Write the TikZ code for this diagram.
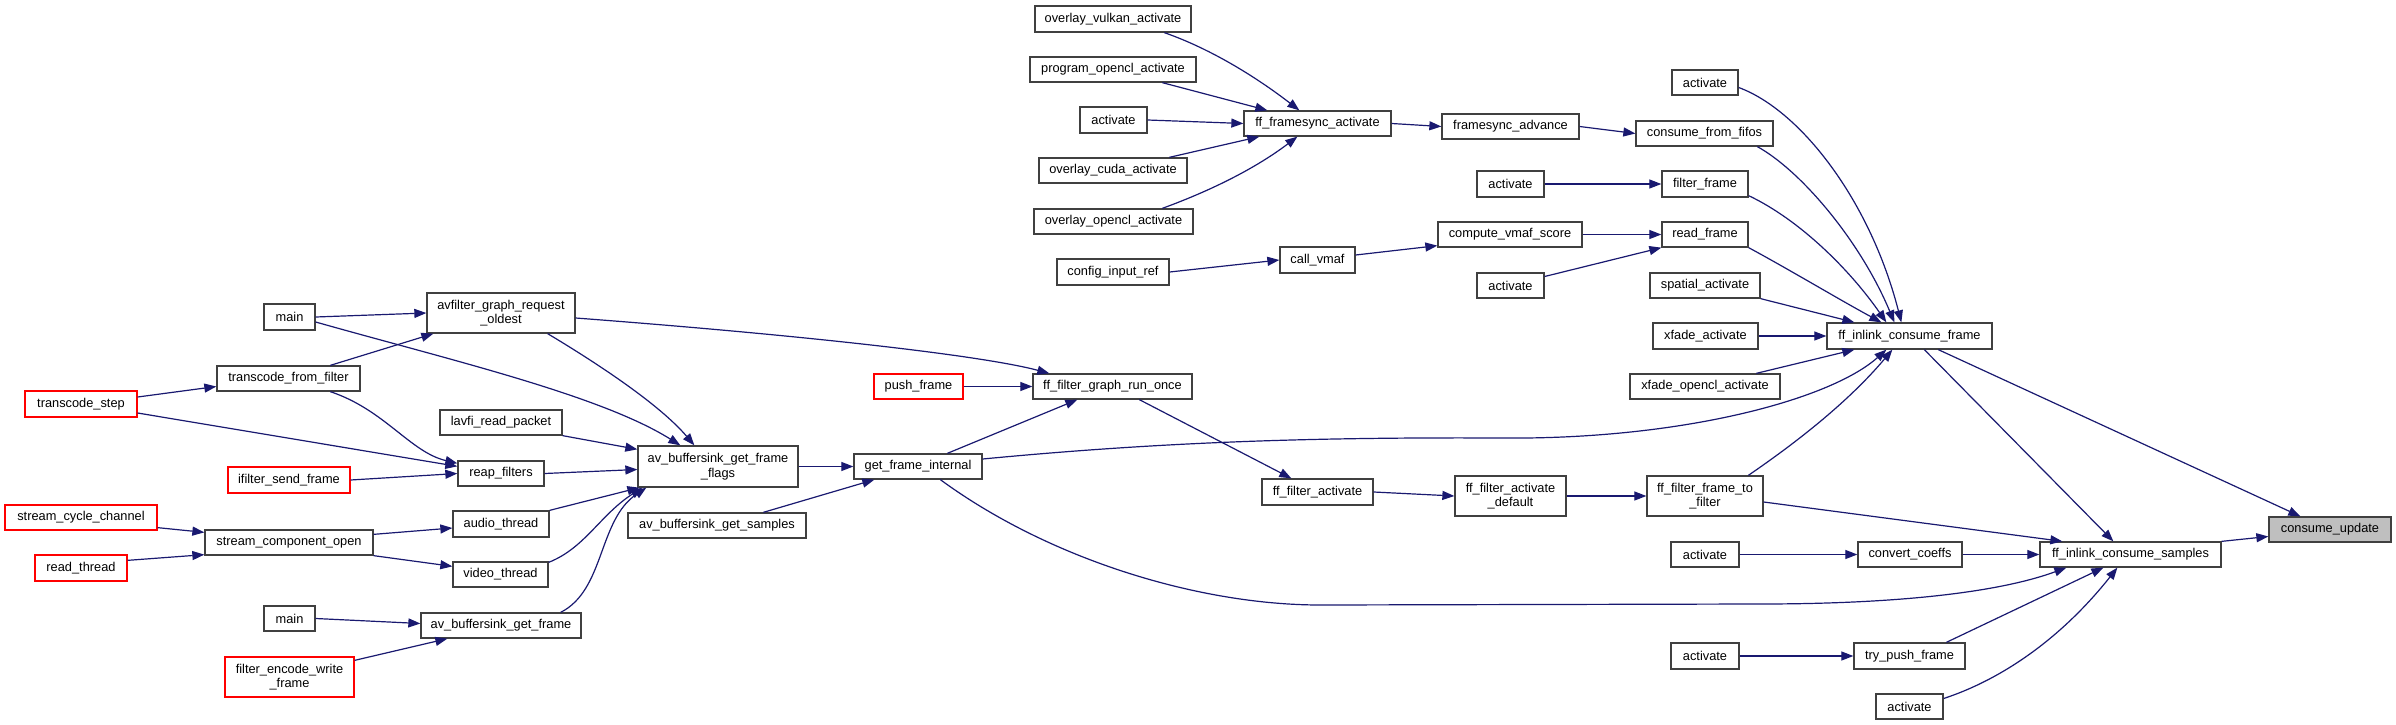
\documentclass[tikz,border=0pt]{standalone}
\usepackage{fontspec}
\setmainfont{Liberation Sans}
\usetikzlibrary{arrows.meta}
\definecolor{edgec}{HTML}{191970}
\definecolor{bord}{HTML}{404040}
\definecolor{rootfill}{HTML}{BFBFBF}
\tikzset{
 box/.style={draw=bord, line width=1.3pt, fill=white, inner sep=0pt, align=center, font=\fontsize{12.8}{14.7}\selectfont},
 redbox/.style={draw=red},
 rootbox/.style={fill=rootfill},
 call/.style={draw=edgec, line width=1.2pt, -{Triangle[length=12pt,width=9pt]}},
}
\newcommand\bx[7][]{\node[box,#1,minimum width={(#5-#3)*1pt},minimum height={(#6-#4)*1pt}] (#2) at ({(#3+#5)/2},{(#4+#6)/2}) {#7};}
\begin{document}
\begin{tikzpicture}[x=1pt,y=-1pt]
\useasboundingbox[fill=white] (0,0) rectangle (2396,725);
\bx{main1}{264}{304}{315}{330}{main}
\bx{avfreq}{427}{293}{575}{333}{avfilter\_graph\_request\\\_oldest}
\bx{tff}{217}{366}{360}{391}{transcode\_from\_filter}
\bx[redbox]{tstep}{25}{391}{137}{417}{transcode\_step}
\bx{lavfi}{440}{410}{562}{435}{lavfi\_read\_packet}
\bx{reap}{458}{461}{544}{486}{reap\_filters}
\bx[redbox]{ifsf}{228}{467}{350}{493}{ifilter\_send\_frame}
\bx[redbox]{scc}{5}{505}{157}{530}{stream\_cycle\_channel}
\bx{sco}{205}{530}{373}{555}{stream\_component\_open}
\bx{audio}{453}{511}{549}{537}{audio\_thread}
\bx[redbox]{rth}{35}{555}{127}{581}{read\_thread}
\bx{video}{453}{562}{548}{587}{video\_thread}
\bx{main2}{264}{606}{315}{631}{main}
\bx{abgf}{421}{613}{581}{638}{av\_buffersink\_get\_frame}
\bx[redbox]{few}{225}{657}{354}{697}{filter\_encode\_write\\\_frame}
\bx{abgff}{638}{446}{798}{487}{av\_buffersink\_get\_frame\\\_flags}
\bx{abgs}{628}{513}{806}{538}{av\_buffersink\_get\_samples}
\bx{gfi}{854}{454}{982}{479}{get\_frame\_internal}
\bx[redbox]{push}{874}{374}{963}{399}{push\_frame}
\bx{fgro}{1033}{374}{1192}{399}{ff\_filter\_graph\_run\_once}
\bx{ovk}{1035}{6}{1191}{32}{overlay\_vulkan\_activate}
\bx{poa}{1030}{57}{1196}{82}{program\_opencl\_activate}
\bx{act1}{1080}{107}{1147}{133}{activate}
\bx{oca}{1039}{158}{1187}{183}{overlay\_cuda\_activate}
\bx{ooa}{1034}{209}{1193}{234}{overlay\_opencl\_activate}
\bx{ffsa}{1244}{111}{1391}{136}{ff\_framesync\_activate}
\bx{fsad}{1442}{114}{1579}{139}{framesync\_advance}
\bx{cir}{1057}{259}{1169}{285}{config\_input\_ref}
\bx{cvmaf}{1280}{247}{1355}{273}{call\_vmaf}
\bx{cvs}{1438}{222}{1582}{247}{compute\_vmaf\_score}
\bx{act2}{1477}{171}{1544}{197}{activate}
\bx{act3}{1477}{273}{1544}{298}{activate}
\bx{act0}{1672}{70}{1738}{95}{activate}
\bx{cff}{1636}{121}{1773}{146}{consume\_from\_fifos}
\bx{ff}{1662}{171}{1748}{197}{filter\_frame}
\bx{rf}{1662}{222}{1748}{247}{read\_frame}
\bx{spa}{1650}{273}{1760}{298}{spatial\_activate}
\bx{xfa}{1653}{323}{1758}{349}{xfade\_activate}
\bx{ficf}{1827}{323}{1992}{349}{ff\_inlink\_consume\_frame}
\bx{xfoa}{1630}{374}{1780}{399}{xfade\_opencl\_activate}
\bx{ffa}{1262}{479}{1373}{505}{ff\_filter\_activate}
\bx{ffad}{1455}{476}{1566}{516}{ff\_filter\_activate\\\_default}
\bx{fftf}{1647}{476}{1763}{516}{ff\_filter\_frame\_to\\\_filter}
\bx{act4}{1671}{542}{1739}{567}{activate}
\bx{act5}{1671}{643}{1739}{669}{activate}
\bx[rootbox]{cu}{2269}{517}{2391}{542}{consume\_update}
\bx{fics}{2040}{542}{2221}{567}{ff\_inlink\_consume\_samples}
\bx{cc}{1858}{542}{1962}{567}{convert\_coeffs}
\bx{tpf}{1854}{643}{1965}{669}{try\_push\_frame}
\bx{act6}{1876}{694}{1943}{719}{activate}
% edges
\draw[call] (main1.east) -- (avfreq.west);
\draw[call] ([yshift=-5]main1.east) .. controls (450,360) and (600,395) .. ([xshift=43]abgff.north west);
\draw[call] ([xshift=114]tff.north west) -- ([xshift=7]avfreq.south west);
\draw[call] ([xshift=114]tff.south west) .. controls (385,410) and (410,452) .. ([yshift=-3]reap.north west);
\draw[call] ([yshift=7]tstep.east) -- ([yshift=-8]tff.west);
\draw[call] ([yshift=-9]tstep.east) -- ([yshift=-6]reap.north west);
\draw[call] (ifsf.east) -- (reap.west);
\draw[call] ([yshift=3]scc.south east) -- ([yshift=-3]sco.north west);
\draw[call] ([yshift=-6]rth.north east) -- ([yshift=1]sco.south west);
\draw[call] ([yshift=-5]sco.north east) -- ([yshift=-4]audio.west);
\draw[call] (sco.south east) -- ([yshift=-5]video.north west);
\draw[call] (main2.east) -- ([yshift=2]abgf.west);
\draw[call] ([yshift=-4]few.north east) -- ([xshift=27]abgf.south west);
\draw[call] ([xshift=-28]avfreq.south east) .. controls (600,365) and (660,405) .. ([xshift=57]abgff.north west);
\draw[call] ([yshift=-5]avfreq.east) .. controls (800,335) and (980,355) .. ([xshift=17]fgro.north west);
\draw[call] (lavfi.south east) -- ([yshift=-4]abgff.north west);
\draw[call] (reap.east) -- ([yshift=-3]abgff.west);
\draw[call] (audio.north east) -- ([xshift=2]abgff.south west);
\draw[call] ([yshift=-1]video.north east) .. controls (585,548) and (600,515) .. ([xshift=5]abgff.south west);
\draw[call] ([xshift=-21]abgf.north east) .. controls (605,590) and (598,520) .. ([xshift=9]abgff.south west);
\draw[call] (abgff.east) -- (gfi.west);
\draw[call] ([xshift=136]abgs.north west) -- ([xshift=21]gfi.south west);
\draw[call] (push.east) -- (fgro.west);
\draw[call] ([xshift=94]gfi.north west) -- ([xshift=45]fgro.south west);
\draw[call] ([yshift=7.5]gfi.east) .. controls (1150,443) and (1300,437) .. (1500,438) .. controls (1680,440) and (1830,400) .. ([xshift=60]ficf.south west);
\draw[call] ([xshift=87]gfi.south west) .. controls (1050,560) and (1200,605) .. (1320,605) -- (1760,604) .. controls (1900,604) and (2000,592) .. ([xshift=27]fics.south west);
\draw[call] ([xshift=107]fgro.south west) -- ([xshift=30]ffa.north west);
\draw[call] (ffa.east) -- (ffad.west);
\draw[call] (ffad.east) -- (fftf.west);
\draw[call] ([xshift=102]fftf.north west) .. controls (1800,440) and (1850,400) .. ([xshift=66]ficf.south west);
\draw[call] ([yshift=-6]fftf.east) -- ([xshift=23]fics.north west);
\draw[call] ([xshift=130]ovk.south west) .. controls (1214,50) and (1260,80) .. ([xshift=56]ffsa.north west);
\draw[call] ([xshift=133]poa.south west) -- ([xshift=24]ffsa.north west);
\draw[call] (act1.east) -- (ffsa.west);
\draw[call] ([xshift=131]oca.north west) -- ([xshift=16]ffsa.south west);
\draw[call] ([xshift=129]ooa.north west) .. controls (1218,188) and (1260,165) .. ([xshift=54]ffsa.south west);
\draw[call] (ffsa.east) -- (fsad.west);
\draw[call] (fsad.east) -- (cff.west);
\draw[call] (cir.east) -- (cvmaf.west);
\draw[call] ([yshift=5]cvmaf.east) -- ([yshift=2]cvs.south west);
\draw[call] (cvs.east) -- (rf.west);
\draw[call] (act2.east) -- (ff.west);
\draw[call] ([yshift=9]act3.east) -- (rf.south west);
\draw[call] ([yshift=-5]act0.east) .. controls (1800,110) and (1870,200) .. ([xshift=75]ficf.north west);
\draw[call] ([xshift=122]cff.south west) .. controls (1800,170) and (1860,240) .. ([xshift=68]ficf.north west);
\draw[call] ([yshift=2]ff.south east) .. controls (1800,220) and (1850,270) .. ([xshift=60]ficf.north west);
\draw[call] (rf.south east) .. controls (1790,270) and (1840,300) .. ([xshift=55]ficf.north west);
\draw[call] (spa.south east) -- ([xshift=28]ficf.north west);
\draw[call] (xfa.east) -- (ficf.west);
\draw[call] ([xshift=127]xfoa.north west) -- ([xshift=28]ficf.south west);
\draw[call] ([xshift=112]ficf.south west) -- ([xshift=32]cu.north west);
\draw[call] ([xshift=98]ficf.south west) -- ([xshift=74]fics.north west);
\draw[call] (act4.east) -- (cc.west);
\draw[call] (cc.east) -- (fics.west);
\draw[call] (act5.east) -- (tpf.west);
\draw[call] ([xshift=93]tpf.north west) -- ([xshift=64]fics.south west);
\draw[call] ([yshift=8]act6.east) .. controls (2000,680) and (2060,640) .. ([xshift=78]fics.south west);
\draw[call] (fics.north east) -- ([yshift=-7]cu.west);
\end{tikzpicture}
\end{document}
